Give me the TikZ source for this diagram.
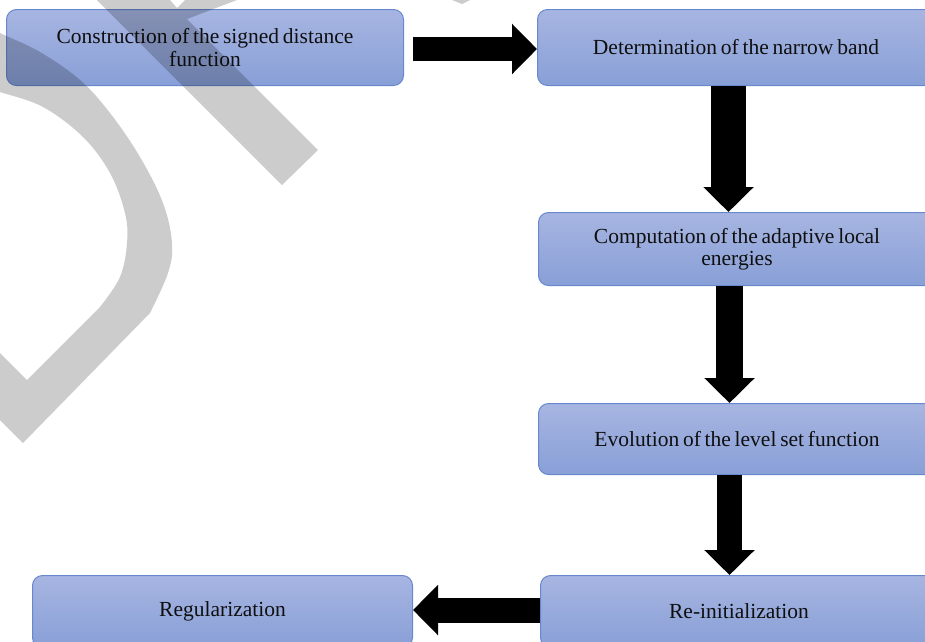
\documentclass[tikz,border=0pt]{standalone}
\usepackage{fontspec}
\setmainfont{Liberation Serif}[WordSpace=0.7]
\usetikzlibrary{arrows.meta}

\definecolor{boxtop}{RGB}{167,181,225}
\definecolor{boxbot}{RGB}{136,159,215}
\definecolor{boxline}{RGB}{104,136,206}
\definecolor{inkblack}{RGB}{15,15,15}

\tikzset{
  stepbox/.style={rectangle, rounded corners=10pt, draw=boxline, line width=1pt,
    top color=boxtop, bottom color=boxbot, minimum width=397pt,
    inner sep=0pt, align=center, text=inkblack,
    font=\fontsize{21.5}{22.5}\selectfont, anchor=north west},
  blockarrow/.style={line width=#1, draw=black,
    -{Triangle[width=49pt,length=25pt]}},
  wm/.style={fill=black, fill opacity=0.2}
}

\begin{document}
\begin{tikzpicture}[x=1pt,y=-1pt]
  \useasboundingbox (0,0) rectangle (925,641);
  \clip (0,0) rectangle (925,641);
  \fill[white] (0,0) rectangle (925,641);

  % process steps
  \node[stepbox, minimum height=76pt] (b1) at (6,9)
    {Construction of the signed distance\\function};
  \node[stepbox, minimum height=76pt] (b2) at (537,9)
    {Determination of the narrow band};
  \node[stepbox, minimum height=73pt] (b3) at (538,212)
    {Computation of the adaptive local\\energies};
  \node[stepbox, minimum height=71pt] (b4) at (538,403)
    {Evolution of the level set function};
  \node[stepbox, minimum height=72pt] (b5) at (540,575)
    {Re-initialization};
  \node[stepbox, minimum height=72pt, minimum width=380pt] (b6) at (32,575)
    {Regularization};

  % block arrows between the steps
  \draw[blockarrow=24pt, shorten <=9pt]
    ([yshift=-1.5pt]b1.east) -- ([yshift=-1.5pt]b2.west);
  \draw[blockarrow=35pt]
    ([xshift=-7.5pt]b2.south) -- ([xshift=-8.5pt]b3.north);
  \draw[blockarrow=27pt]
    ([xshift=-7.5pt]b3.south) -- ([xshift=-7.5pt]b4.north);
  \draw[blockarrow=25pt]
    ([xshift=-7.5pt]b4.south) -- ([xshift=-9.5pt]b5.north);
  \draw[blockarrow=25pt]
    ([yshift=1.5pt]b5.west) -- ([yshift=1.5pt]b6.east);

  % grey draft lettering across the upper left
  \fill[wm] plot[smooth, tension=0.6] coordinates {(-20,22) (0,33) (40,52) (80,80)
      (110,113) (140,157) (163,203) (172,243) (168,273) (150,313)}
    -- (23,443) -- (-20,400) -- (-20,333) -- (27,380)
    -- plot[smooth, tension=0.6] coordinates {(100,307) (120,277) (127,243)
      (125,213) (110,173) (83,137) (43,107) (0,92) (-20,86)}
    -- cycle;
  \fill[wm] (97,0) -- (282,185) -- (318,150) -- (187,19) -- (237,0)
    -- (185,0) -- (177,8) -- (170,0) -- cycle;
  \fill[wm] (452,0) -- (470,0) -- (462,4) -- cycle;
\end{tikzpicture}
\end{document}
